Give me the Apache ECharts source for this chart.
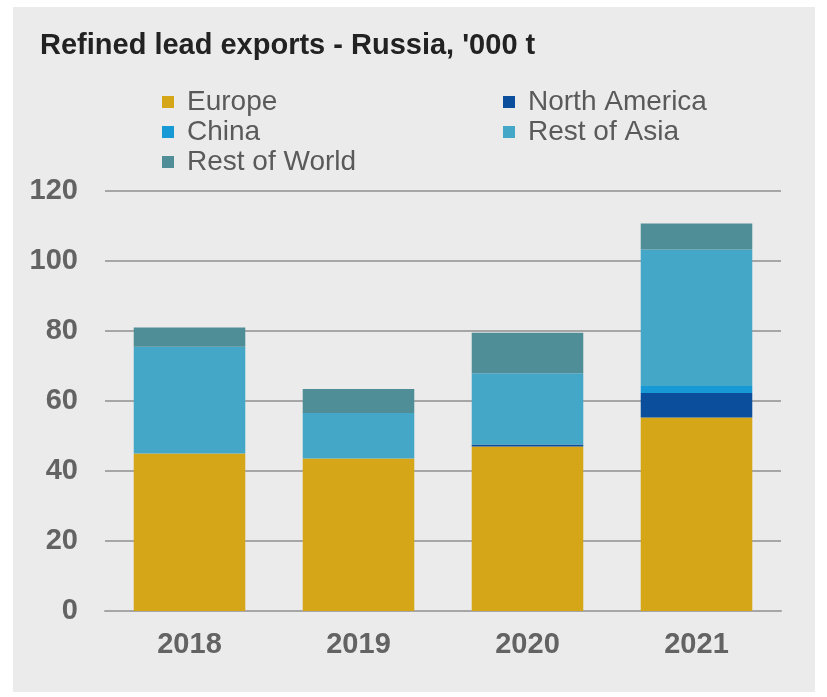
<!DOCTYPE html>
<html>
<head>
<meta charset="utf-8">
<script src="https://cdn.jsdelivr.net/npm/echarts@6/dist/echarts.min.js"></script>
<style>
  html, body { margin: 0; padding: 0; background: #ffffff; }
  #chart { width: 827px; height: 697px; }
</style>
</head>
<body>
<div id="chart"></div>
<script>
// Refined lead exports from Russia by destination, thousand tonnes
const years = ['2018', '2019', '2020', '2021'];
const europe = [45, 43.6, 47, 55.3];
const northAmerica = [0, 0, 0.6, 7];
const china = [0, 0, 0, 2];
const restOfAsia = [30.5, 13, 20.3, 39];
const restOfWorld = [5.5, 6.8, 11.6, 7.4];
const yTicks = { min: 0, max: 120, interval: 20 };

const colors = {
  'Europe': '#d5a618',
  'North America': '#0b4f9c',
  'China': '#1799d6',
  'Rest of Asia': '#45a7c7',
  'Rest of World': '#4f8e97'
};

const font = '"Liberation Sans", Arial, sans-serif';

function stackSeries(name, values) {
  return {
    name: name,
    type: 'bar',
    stack: 'total',
    data: values,
    barCategoryGap: '34%',
    itemStyle: { color: colors[name] },
    emphasis: { disabled: true }
  };
}

const legendText = {
  fontFamily: font,
  fontSize: 28,
  color: '#5a5a5a',
  padding: [0, 0, 0, 8]
};

function legendColumn(names, left) {
  return {
    data: names,
    orient: 'vertical',
    left: left,
    top: 88,
    padding: 0,
    itemGap: 2,
    itemWidth: 12,
    itemHeight: 12,
    icon: 'rect',
    selectedMode: false,
    textStyle: legendText
  };
}

const chart = echarts.init(document.getElementById('chart'), null, { renderer: 'canvas' });
chart.setOption({
  backgroundColor: '#ffffff',
  animation: false,
  graphic: [{
    type: 'rect',
    z: -10,
    shape: { x: 13, y: 7, width: 802, height: 685 },
    style: { fill: '#ebebeb' }
  }],
  title: {
    text: "Refined lead exports - Russia, '000 t",
    left: 40,
    top: 31,
    padding: 0,
    textStyle: { fontFamily: font, fontSize: 29, fontWeight: 'bold', color: '#222222' }
  },
  legend: [
    legendColumn(['Europe', 'China', 'Rest of World'], 162),
    legendColumn(['North America', 'Rest of Asia'], 503)
  ],
  grid: { left: 105, right: 46, top: 191, bottom: 86, containLabel: false },
  xAxis: {
    type: 'category',
    data: years,
    axisLine: { show: true, lineStyle: { color: '#a6a6a6', width: 2 } },
    axisTick: { show: false },
    axisLabel: { margin: 19, fontFamily: font, fontSize: 29, fontWeight: 'bold', color: '#636363' }
  },
  yAxis: {
    type: 'value',
    min: yTicks.min,
    max: yTicks.max,
    interval: yTicks.interval,
    axisLine: { show: false },
    axisTick: { show: false },
    splitLine: { lineStyle: { color: '#a6a6a6', width: 2 } },
    axisLabel: { margin: 27, fontFamily: font, fontSize: 29, fontWeight: 'bold', color: '#636363' }
  },
  series: [
    stackSeries('Europe', europe),
    stackSeries('North America', northAmerica),
    stackSeries('China', china),
    stackSeries('Rest of Asia', restOfAsia),
    stackSeries('Rest of World', restOfWorld)
  ]
});
</script>
</body>
</html>
